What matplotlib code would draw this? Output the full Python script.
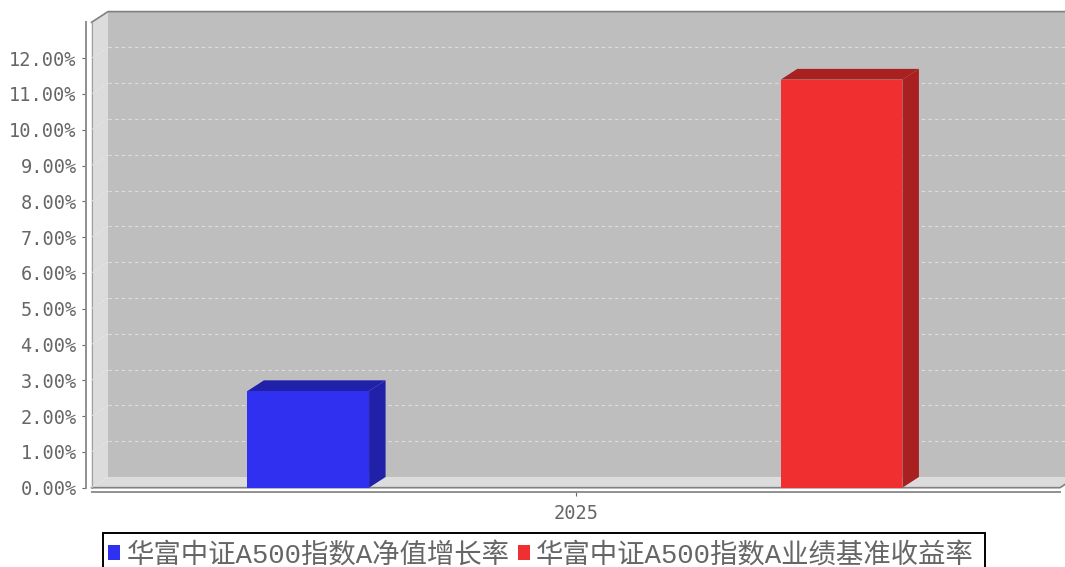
import matplotlib
matplotlib.use("Agg")
import matplotlib.pyplot as plt
from matplotlib.patches import Polygon, Patch, Rectangle

categories = ["2025"]
series_names = ["华富中证A500指数A净值增长率", "华富中证A500指数A业绩基准收益率"]
series_values = [2.70, 11.40]
series_front = ["#3030f0", "#f03030"]
series_dark = ["#2020a8", "#a82020"]
y_ticks = list(range(13))

W, H = 1065, 567
L, R, T, B = 91.5, 1060, 22.3, 487.7
DX, DY = 16.5, 10.7
PX_Y = (B - T) / 13
PX_X = R - L
dx = DX / PX_X
dy = DY / PX_Y

fig = plt.figure(figsize=(W / 100, H / 100), dpi=100, facecolor="white")
ax = fig.add_axes([L / W, 1 - B / H, (R - L) / W, (B - T) / H])
ax.set_xlim(-0.5, 0.5)
ax.set_ylim(0, 13)
ax.patch.set_visible(False)

def poly(pts, fc, ec="none", lw=0, z=1):
    ax.add_patch(Polygon(pts, closed=True, facecolor=fc, edgecolor=ec, linewidth=lw,
                         zorder=z, clip_on=False))

x0, x1, ymax = -0.5, 0.5, 13
# back wall, left wall, floor
poly([(x0 + dx, dy), (x1 + dx, dy), (x1 + dx, ymax + dy), (x0 + dx, ymax + dy)], "#bebebe")
poly([(x0, 0), (x0 + dx, dy), (x0 + dx, ymax + dy), (x0, ymax)], "#dcdcdc")
poly([(x0, 0), (x1, 0), (x1 + dx, dy), (x0 + dx, dy)], "#dcdcdc")
# edges
ax.plot([x0, x0 + dx, x1 + dx], [ymax, ymax + dy, ymax + dy], color="#808080", lw=1.2,
        zorder=2, clip_on=False)
ax.plot([x0, x0], [0, ymax], color="#a0a0a0", lw=0.8, zorder=2, clip_on=False)
ax.plot([x0, x1, x1 + dx], [0, 0, dy], color="#808080", lw=1.2, zorder=2, clip_on=False)

# gridlines
for v in y_ticks:
    ax.plot([x0 + dx, x1 + dx], [v + dy, v + dy], color="#dedede", lw=0.8, ls=(0, (3, 3)),
            zorder=2, clip_on=False)
    ax.plot([x0, x0 + dx], [v, v + dy], color="#e6e6e6", lw=0.6, ls=(0, (3, 2)),
            zorder=2, clip_on=False)

# 3D bars
group_offsets = [-0.2762, 0.2745]
bar_w = 0.1256
for off, val, fc, dk in zip(group_offsets, series_values, series_front, series_dark):
    a, b = off - bar_w / 2, off + bar_w / 2
    poly([(b, 0), (b + dx, dy), (b + dx, val + dy), (b, val)], dk, z=3)
    poly([(a, val), (b, val), (b + dx, val + dy), (a + dx, val + dy)], dk, z=3)
    ax.bar(off, val, width=bar_w, color=fc, zorder=4)

# axes
for s in ("top", "right"):
    ax.spines[s].set_visible(False)
ax.spines["left"].set_position(("outward", 4.0))
ax.spines["bottom"].set_position(("outward", 3.4))
for s in ("left", "bottom"):
    ax.spines[s].set_color("#909090")
    ax.spines[s].set_linewidth(1.4)
ax.set_yticks(y_ticks)
ax.set_yticklabels([f"{v}.00%" for v in y_ticks], family="DejaVu Sans Mono", fontsize=13.4,
                   color="#666666", va="center")
for t in ax.get_yticklabels():
    t.set_verticalalignment("center_baseline")
ax.set_xticks([0])
ax.set_xticklabels(categories, family="DejaVu Sans Mono", fontsize=13.4, color="#666666")
ax.tick_params(axis="y", length=3, width=0.8, color="#666666", pad=3.6)
ax.tick_params(axis="x", length=3, width=0.8, color="#666666", pad=5)

# legend: content via legend, frame runs past the bottom edge like the reference
fig.add_artist(Rectangle((103 / W, -5 / H), (985 - 103) / W, (567 - 533 + 5) / H,
                         transform=fig.transFigure, facecolor="white", edgecolor="black",
                         linewidth=1.4, zorder=5))
handles = [Patch(facecolor=c, edgecolor="none") for c in series_front]
leg = fig.legend(handles, series_names, loc="upper left",
                 bbox_to_anchor=(108 / W, 1 - 542.5 / H), bbox_transform=fig.transFigure,
                 ncol=2, frameon=False, borderaxespad=0, borderpad=0, handlelength=0.45,
                 handleheight=0.45, handletextpad=0.22, columnspacing=0.3,
                 prop={"family": ["Liberation Mono", "Noto Sans CJK SC"], "size": 19.75},
                 labelcolor="#666666")
leg.set_zorder(6)

fig.savefig("out.png", dpi=100)
